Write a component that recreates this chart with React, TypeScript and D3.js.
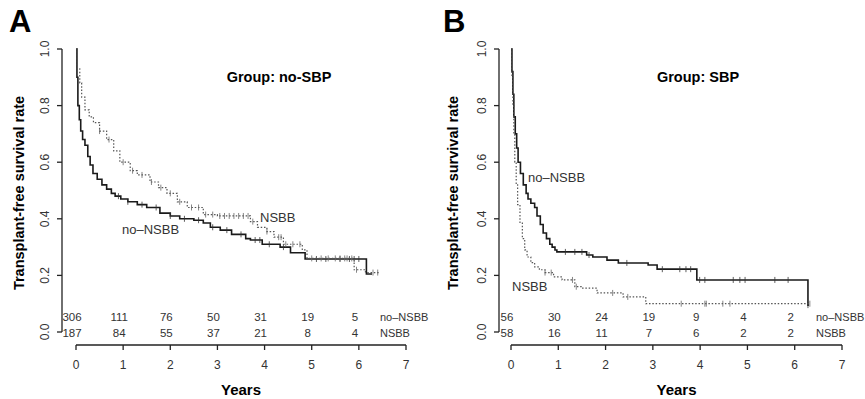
import * as d3 from 'd3';

// Panel A, group no-SBP
const aNoNsbbT = [0, 0.02, 0.04, 0.07, 0.1, 0.14, 0.19, 0.25, 0.3, 0.36, 0.45, 0.55, 0.65, 0.75, 0.83, 0.95, 1.1, 1.3, 1.5, 1.78, 2.0, 2.2, 2.5, 2.7, 2.85, 3.06, 3.3, 3.6, 3.7, 3.95, 4.33, 4.55, 4.86, 6.16, 6.28]
const aNoNsbbS = [1.0, 0.9, 0.8, 0.75, 0.71, 0.68, 0.66, 0.62, 0.59, 0.56, 0.54, 0.52, 0.505, 0.49, 0.48, 0.47, 0.46, 0.45, 0.44, 0.42, 0.41, 0.4, 0.395, 0.385, 0.37, 0.36, 0.345, 0.33, 0.325, 0.31, 0.3, 0.28, 0.258, 0.205, 0.205]
const aNoNsbbCens = [0.9, 1.1, 1.4, 1.7, 2.0, 2.3, 2.6, 2.9, 3.2, 3.5, 3.8, 3.9, 4.1, 4.4, 5.1, 5.3, 5.6, 5.8, 5.9, 6.0]

const aNsbbT = [0, 0.03, 0.08, 0.12, 0.19, 0.28, 0.37, 0.5, 0.65, 0.8, 0.93, 1.15, 1.3, 1.57, 1.75, 1.93, 2.15, 2.36, 2.7, 3.0, 3.7, 3.85, 4.05, 4.2, 4.4, 4.8, 4.9, 5.9, 6.14, 6.45]
const aNsbbS = [1.0, 0.93, 0.88, 0.83, 0.785, 0.76, 0.74, 0.71, 0.68, 0.64, 0.6, 0.57, 0.555, 0.53, 0.51, 0.49, 0.46, 0.44, 0.415, 0.41, 0.39, 0.37, 0.355, 0.335, 0.31, 0.29, 0.26, 0.22, 0.21, 0.21]
const aNsbbCens = [0.5, 0.7, 1.0, 1.2, 1.4, 1.6, 1.8, 2.0, 2.2, 2.45, 2.6, 2.75, 2.9, 3.05, 3.15, 3.25, 3.35, 3.45, 3.55, 3.65, 3.75, 4.05, 4.3, 4.35, 4.45, 4.6, 4.75, 5.0, 5.2, 5.35, 5.5, 5.6, 5.7, 5.75, 5.85, 5.95, 6.3, 6.4]

// Panel B, group SBP
const bNoNsbbT = [0, 0.02, 0.04, 0.06, 0.09, 0.12, 0.15, 0.2, 0.26, 0.32, 0.36, 0.42, 0.5, 0.55, 0.62, 0.68, 0.75, 0.82, 0.87, 0.93, 0.97, 1.6, 1.73, 2.03, 2.27, 2.9, 3.09, 3.93, 6.28, 6.3]
const bNoNsbbS = [1.0, 0.92, 0.84, 0.76, 0.7, 0.65, 0.6, 0.56, 0.52, 0.49, 0.47, 0.455, 0.44, 0.41, 0.38, 0.35, 0.33, 0.31, 0.3, 0.29, 0.283, 0.272, 0.265, 0.254, 0.244, 0.237, 0.222, 0.184, 0.095, 0.095]
const bNoNsbbCens = [1.15, 1.35, 1.5, 1.65, 2.45, 3.2, 3.57, 3.7, 3.8, 3.99, 4.1, 4.7, 4.84, 4.95, 5.58, 5.86, 6.28]

const bNsbbT = [0, 0.02, 0.04, 0.06, 0.08, 0.11, 0.14, 0.19, 0.24, 0.29, 0.34, 0.42, 0.5, 0.6, 0.72, 0.9, 1.08, 1.35, 1.5, 1.82, 2.37, 2.85, 6.32]
const bNsbbS = [1.0, 0.9, 0.8, 0.7, 0.6, 0.52, 0.45, 0.385, 0.33, 0.29, 0.265, 0.245, 0.23, 0.22, 0.21, 0.195, 0.184, 0.16, 0.155, 0.138, 0.124, 0.1, 0.1]
const bNsbbCens = [0.72, 0.85, 1.3, 1.38, 2.15, 2.47, 3.6, 4.1, 4.13, 4.48, 4.63, 6.32]

// numbers at risk
const riskYears = [0, 1, 2, 3, 4, 5, 6]
const aRiskNoNsbb = [306, 111, 76, 50, 31, 19, 5]
const aRiskNsbb = [187, 84, 55, 37, 21, 8, 4]
const bRiskNoNsbb = [56, 30, 24, 19, 9, 4, 2]
const bRiskNsbb = [58, 16, 11, 7, 6, 2, 2]

const xTicks = [0, 1, 2, 3, 4, 5, 6, 7]
const yTicks = [0, 0.2, 0.4, 0.6, 0.8, 1.0]

const font = 'Liberation Sans, Arial, Helvetica, sans-serif'

function stepAt(ts: number[], ss: number[], t: number) {
  let v = ss[0]
  for (let i = 0; i < ts.length; i++) {
    if (ts[i] <= t) v = ss[i]
  }
  return v
}

type Curve = { t: number[], s: number[], cens: number[], dotted: boolean }

function Panel(props: {
  letterX: number, axisX: number, x0: number, x1: number, yLabelX: number,
  letter: string, title: string, titleX: number,
  curves: Curve[], riskTop: number[], riskBottom: number[],
  labels: { text: string, x: number, y: number }[]
}) {
  const { letterX, axisX, x0, x1, yLabelX, letter, title, titleX, curves, riskTop, riskBottom, labels } = props
  const x = d3.scaleLinear().domain([0, 7]).range([x0, x1])
  const y = d3.scaleLinear().domain([0, 1]).range([332, 49])
  const line = d3.line<[number, number]>()
    .x(d => x(d[0]))
    .y(d => y(d[1]))
    .curve(d3.curveStepAfter)

  return (
    <g fontFamily={font}>
      <text x={letterX} y={32} fontSize={31} fontWeight="bold">{letter}</text>
      <text x={titleX} y={82} fontSize={14.5} fontWeight="bold" textAnchor="middle">{title}</text>

      {/* y axis */}
      <line x1={axisX} x2={axisX} y1={y(0)} y2={y(1)} stroke="#222" strokeWidth={1.3} />
      {yTicks.map(v => (
        <g key={v}>
          <line x1={axisX - 5} x2={axisX} y1={y(v)} y2={y(v)} stroke="#222" strokeWidth={1.3} />
          <text transform={`translate(${axisX - 13},${y(v)}) rotate(-90)`} textAnchor="middle"
            fontSize={12} fill="#333">{v.toFixed(1)}</text>
        </g>
      ))}
      <text transform={`translate(${yLabelX},${193}) rotate(-90)`} textAnchor="middle"
        fontSize={14.5} fontWeight="bold">Transplant-free survival rate</text>

      {/* x axis */}
      <line x1={x(0)} x2={x(7)} y1={345} y2={345} stroke="#222" strokeWidth={1.3} />
      {xTicks.map(t => (
        <g key={t}>
          <line x1={x(t)} x2={x(t)} y1={345} y2={350} stroke="#222" strokeWidth={1.3} />
          <text x={x(t)} y={369} textAnchor="middle" fontSize={12} fill="#333">{t}</text>
        </g>
      ))}
      <text x={(x(0) + x(7)) / 2} y={395} textAnchor="middle" fontSize={15} fontWeight="bold">Years</text>

      {/* numbers at risk */}
      {riskYears.map((t, i) => (
        <g key={t} fontSize={11.5} fill="#333" textAnchor="middle">
          <text x={x(t) - 4} y={321}>{riskTop[i]}</text>
          <text x={x(t) - 4} y={337}>{riskBottom[i]}</text>
        </g>
      ))}
      <text x={x(7) - 26} y={321} fontSize={11} fill="#333">no–NSBB</text>
      <text x={x(7) - 26} y={337} fontSize={11} fill="#333">NSBB</text>

      {/* curves */}
      {curves.map((c, ci) => {
        const pts = c.t.map((t, i) => [t, c.s[i]] as [number, number])
        return (
          <g key={ci}>
            <path d={line(pts) || ''} fill="none"
              stroke={c.dotted ? '#555' : '#1a1a1a'}
              strokeWidth={c.dotted ? 1.2 : 1.6}
              strokeDasharray={c.dotted ? '1.5,1.8' : undefined} />
            {c.cens.map((t, i) => {
              const v = stepAt(c.t, c.s, t)
              return <line key={i} x1={x(t)} x2={x(t)} y1={y(v) - 3} y2={y(v) + 3}
                stroke={c.dotted ? '#666' : '#333'} strokeWidth={0.8} />
            })}
          </g>
        )
      })}

      {labels.map(l => (
        <text key={l.text} x={l.x} y={l.y} fontSize={13} fill="#333">{l.text}</text>
      ))}
    </g>
  )
}

export default function App() {
  return (
    <svg width={865} height={399} style={{ position: 'absolute', left: 0, top: 0, background: '#fff' }}>
      <rect width={865} height={399} fill="#fff" />
      <Panel letterX={9} axisX={62} x0={76} x1={406} yLabelX={24} letter="A" title="Group: no-SBP" titleX={279}
        curves={[
          { t: aNoNsbbT, s: aNoNsbbS, cens: aNoNsbbCens, dotted: false },
          { t: aNsbbT, s: aNsbbS, cens: aNsbbCens, dotted: true },
        ]}
        riskTop={aRiskNoNsbb} riskBottom={aRiskNsbb}
        labels={[{ text: 'NSBB', x: 260, y: 222 }, { text: 'no–NSBB', x: 122, y: 234 }]} />
      <Panel letterX={443} axisX={499} x0={511} x1={842} yLabelX={458} letter="B" title="Group: SBP" titleX={698}
        curves={[
          { t: bNoNsbbT, s: bNoNsbbS, cens: bNoNsbbCens, dotted: false },
          { t: bNsbbT, s: bNsbbS, cens: bNsbbCens, dotted: true },
        ]}
        riskTop={bRiskNoNsbb} riskBottom={bRiskNsbb}
        labels={[{ text: 'no–NSBB', x: 528, y: 182 }, { text: 'NSBB', x: 512, y: 291 }]} />
    </svg>
  )
}
